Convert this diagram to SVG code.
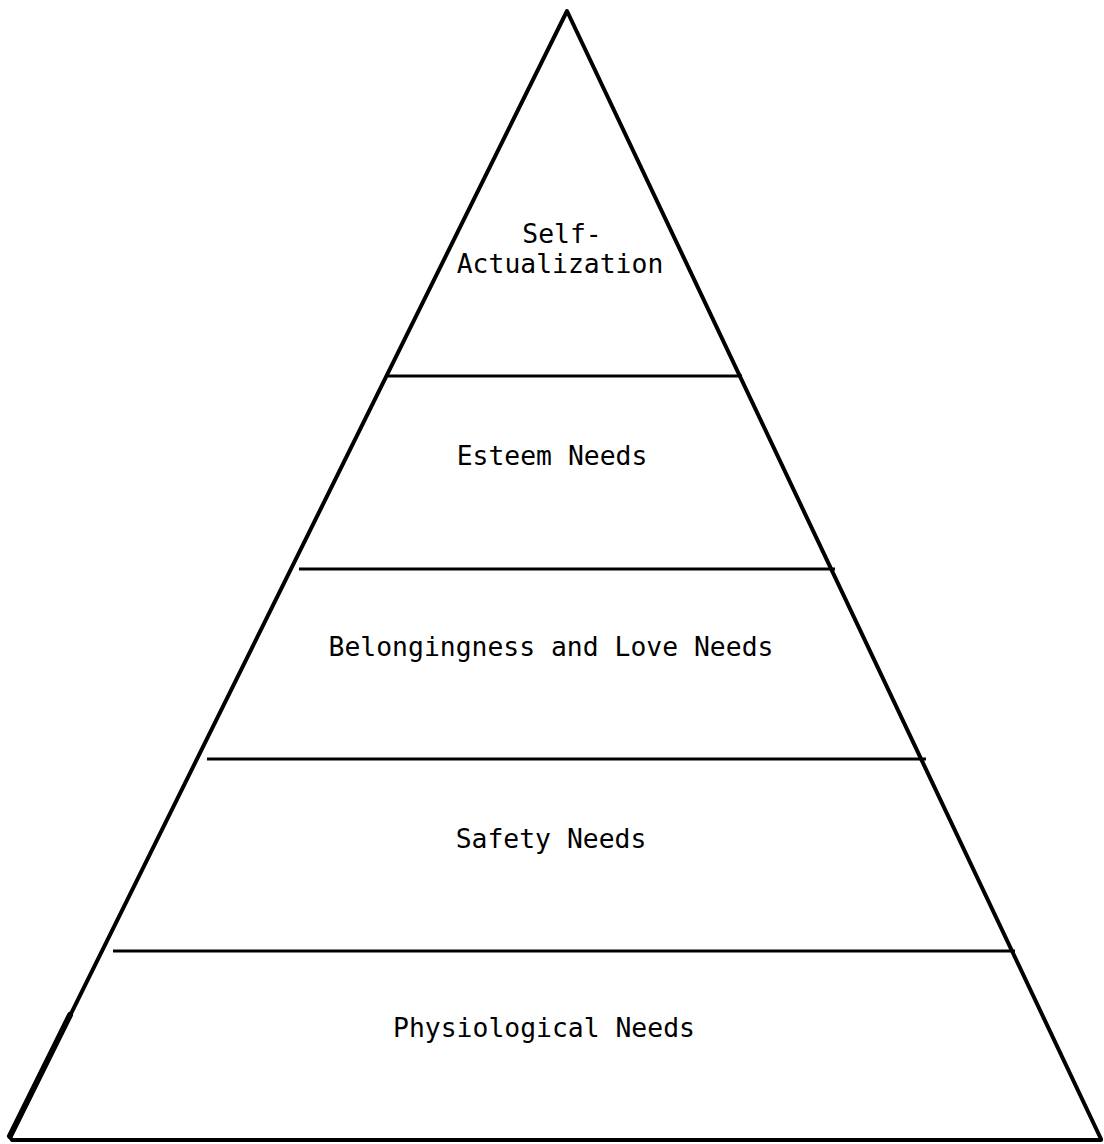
<svg xmlns="http://www.w3.org/2000/svg" width="1104" height="1144" viewBox="0 0 1104 1144">
<style>
.edge{stroke:#000;stroke-width:4;fill:none;stroke-linecap:round;stroke-linejoin:round}
.div{stroke:#000;stroke-width:3;fill:none}
.lbl{font-family:"DejaVu Sans Mono","Liberation Mono",monospace;font-size:26.4px;fill:#000;text-anchor:middle}
</style>
<rect width="1104" height="1144" fill="#fff"/>
<g id="pyramid">
<path class="edge" d="M10 1137 L567 11 L1101 1139"/>
<path class="edge" d="M10 1137 L12 1140 L1101 1140"/>
<path stroke="#000" stroke-width="6" stroke-linecap="round" fill="none" d="M10 1136 L70 1015"/>
</g>
<g id="dividers">
<line class="div" x1="388" y1="376" x2="742" y2="376"/>
<line class="div" x1="299" y1="569" x2="835" y2="569"/>
<line class="div" x1="207" y1="759" x2="926" y2="759"/>
<line class="div" x1="113" y1="951" x2="1015" y2="951"/>
</g>
<g id="self-actualization">
<text class="lbl" x="562" y="243">Self-</text>
<text class="lbl" x="560" y="273">Actualization</text>
</g>
<g id="esteem-needs"><text class="lbl" x="552" y="465">Esteem Needs</text></g>
<g id="belongingness-and-love-needs"><text class="lbl" x="551" y="656">Belongingness and Love Needs</text></g>
<g id="safety-needs"><text class="lbl" x="551" y="848">Safety Needs</text></g>
<g id="physiological-needs"><text class="lbl" x="544" y="1037">Physiological Needs</text></g>
</svg>
